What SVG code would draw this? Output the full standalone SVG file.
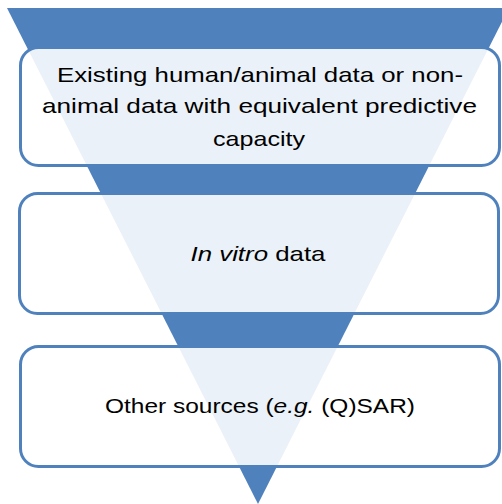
<svg xmlns="http://www.w3.org/2000/svg" width="502" height="504" viewBox="0 0 502 504">
<style>
.box{fill:#ffffff;fill-opacity:0.89;stroke:#4f81bd;stroke-width:3}
.t{font-family:"Liberation Sans",Arial,sans-serif;font-size:21px;fill:#000;text-anchor:middle}
</style>
<rect width="502" height="504" fill="#ffffff"/>
<g id="funnel">
<polygon points="7,8 509,8 258,504" fill="#4f81bd"/>
</g>
<g id="connectors"></g>
<g id="node1">
<rect class="box" x="20.5" y="47.5" width="479" height="118" rx="18"/>
<text class="t" x="260" y="82" textLength="406" lengthAdjust="spacingAndGlyphs">Existing human/animal data or non-</text>
<text class="t" x="259.5" y="113" textLength="435" lengthAdjust="spacingAndGlyphs">animal data with equivalent predictive</text>
<text class="t" x="259" y="146" textLength="92" lengthAdjust="spacingAndGlyphs">capacity</text>
</g>
<g id="node2">
<rect class="box" x="19.5" y="193.5" width="479" height="120" rx="18"/>
<text class="t" x="258" y="261" textLength="135" lengthAdjust="spacingAndGlyphs"><tspan font-style="italic">In vitro</tspan> data</text>
</g>
<g id="node3">
<rect class="box" x="20.5" y="346.5" width="479" height="120" rx="18"/>
<text class="t" x="260" y="413" textLength="310" lengthAdjust="spacingAndGlyphs">Other sources (<tspan font-style="italic">e.g.</tspan> (Q)SAR)</text>
</g>
</svg>
